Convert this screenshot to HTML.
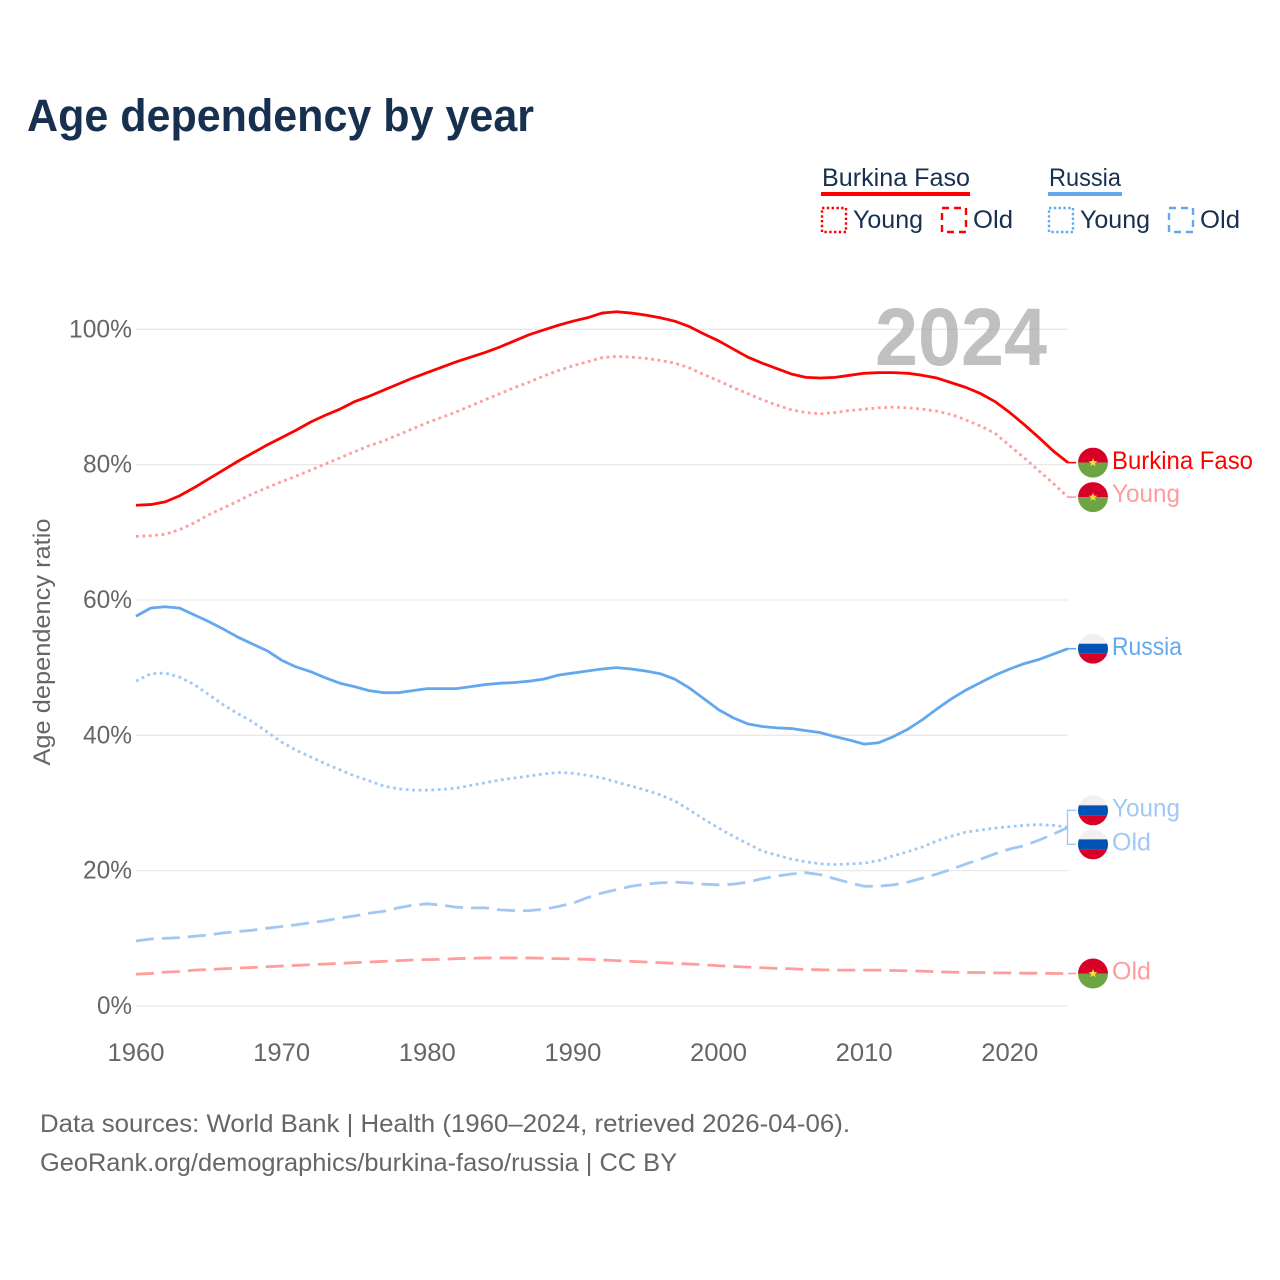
<!DOCTYPE html>
<html lang="en">
<head>
<meta charset="utf-8">
<title>Age dependency by year</title>
<style>
html,body{margin:0;padding:0;background:#fff;}
svg{display:block;font-family:"Liberation Sans",sans-serif;}
</style>
</head>
<body>
<svg id="chart" xmlns="http://www.w3.org/2000/svg" width="1280" height="1280" viewBox="0 0 1280 1280">
  <rect x="0" y="0" width="1280" height="1280" fill="#fff"/>
  <text x="27" y="131" font-size="45" font-weight="700" fill="#17304f" textLength="507" lengthAdjust="spacingAndGlyphs">Age dependency by year</text>

  <g>
    <text x="822" y="186" font-size="25" fill="#17304f" textLength="148" lengthAdjust="spacingAndGlyphs">Burkina Faso</text>
    <rect x="821" y="192" width="149" height="4" fill="#ff0000"/>
    <rect x="822" y="208" width="24" height="24" fill="none" stroke="#ff0000" stroke-width="2.4" stroke-dasharray="2.4 2.4"/>
    <text x="853" y="228" font-size="25" fill="#17304f" textLength="70" lengthAdjust="spacingAndGlyphs">Young</text>
    <rect x="942" y="208" width="24" height="24" fill="none" stroke="#ff0000" stroke-width="2.4" stroke-dasharray="7 5"/>
    <text x="973" y="228" font-size="25" fill="#17304f" textLength="40" lengthAdjust="spacingAndGlyphs">Old</text>

    <text x="1049" y="186" font-size="25" fill="#17304f" textLength="72" lengthAdjust="spacingAndGlyphs">Russia</text>
    <rect x="1048" y="192" width="74" height="4" fill="#63a8ee"/>
    <rect x="1049" y="208" width="24" height="24" fill="none" stroke="#63a8ee" stroke-width="2.4" stroke-dasharray="2.4 2.4"/>
    <text x="1080" y="228" font-size="25" fill="#17304f" textLength="70" lengthAdjust="spacingAndGlyphs">Young</text>
    <rect x="1169" y="208" width="24" height="24" fill="none" stroke="#63a8ee" stroke-width="2.4" stroke-dasharray="7 5"/>
    <text x="1200" y="228" font-size="25" fill="#17304f" textLength="40" lengthAdjust="spacingAndGlyphs">Old</text>
  </g>

  <g id="grid"></g>
  <g id="xticks"></g>
  <g id="yticks"></g>
  <text transform="translate(50,642) rotate(-90)" text-anchor="middle" font-size="24" fill="#666" textLength="247" lengthAdjust="spacingAndGlyphs">Age dependency ratio</text>

  <g id="series"></g>
  <text x="875" y="365" font-size="82" font-weight="700" fill="#a8a8a8" fill-opacity="0.72" textLength="172" lengthAdjust="spacingAndGlyphs">2024</text>
  <g id="connectors"></g>
  <g id="flags"></g>

  <text x="40" y="1132" font-size="25" fill="#666" textLength="810" lengthAdjust="spacingAndGlyphs">Data sources: World Bank | Health (1960–2024, retrieved 2026-04-06).</text>
  <text x="40" y="1171" font-size="25" fill="#666" textLength="637" lengthAdjust="spacingAndGlyphs">GeoRank.org/demographics/burkina-faso/russia | CC BY</text>
</svg>
<script>
const startYear = 1960;
const xTickYears = [1960,1970,1980,1990,2000,2010,2020];
const yTickValues = [0,20,40,60,80,100];
const yTickLabels = ["0%","20%","40%","60%","80%","100%"];

const burkinaTotal = [74.0,74.1,74.5,75.4,76.6,77.9,79.2,80.5,81.7,82.9,84.0,85.1,86.3,87.3,88.2,89.3,90.1,91.0,91.9,92.8,93.6,94.4,95.2,95.9,96.6,97.4,98.3,99.2,99.9,100.6,101.2,101.7,102.4,102.6,102.4,102.1,101.7,101.2,100.4,99.3,98.3,97.1,95.9,95.0,94.2,93.4,92.9,92.8,92.9,93.2,93.5,93.6,93.6,93.5,93.2,92.8,92.1,91.4,90.5,89.3,87.7,85.9,84.0,82.0,80.3];
const burkinaYoung = [69.4,69.5,69.7,70.4,71.4,72.6,73.6,74.6,75.7,76.6,77.5,78.3,79.2,80.1,81.0,81.9,82.8,83.5,84.4,85.3,86.2,87.0,87.8,88.7,89.6,90.5,91.4,92.2,93.1,93.9,94.6,95.2,95.8,96.0,95.9,95.7,95.4,95.0,94.3,93.3,92.4,91.4,90.5,89.6,88.8,88.1,87.7,87.5,87.7,88.0,88.2,88.4,88.5,88.4,88.2,87.9,87.4,86.6,85.7,84.6,82.8,81.0,79.1,77.2,75.2];
const burkinaOld = [4.7,4.8,5.0,5.1,5.3,5.4,5.5,5.6,5.7,5.8,5.9,6.0,6.1,6.2,6.3,6.4,6.5,6.6,6.7,6.8,6.85,6.9,7.0,7.05,7.1,7.1,7.1,7.1,7.05,7.0,6.95,6.9,6.8,6.7,6.6,6.5,6.4,6.3,6.2,6.1,5.95,5.85,5.75,5.65,5.55,5.5,5.4,5.35,5.3,5.3,5.3,5.3,5.25,5.2,5.15,5.05,5.0,4.95,4.95,4.9,4.9,4.85,4.85,4.8,4.8];
const russiaTotal = [57.6,58.8,59.0,58.8,57.8,56.8,55.7,54.5,53.5,52.5,51.1,50.1,49.4,48.5,47.7,47.2,46.6,46.3,46.3,46.6,46.9,46.9,46.9,47.2,47.5,47.7,47.8,48.0,48.3,48.9,49.2,49.5,49.8,50.0,49.8,49.5,49.1,48.3,47.0,45.4,43.8,42.6,41.7,41.3,41.1,41.0,40.7,40.4,39.8,39.3,38.7,38.9,39.8,40.9,42.3,43.9,45.4,46.7,47.8,48.9,49.8,50.6,51.2,52.0,52.8];
const russiaYoung = [48.0,49.1,49.2,48.6,47.5,46.0,44.5,43.2,42.0,40.5,39.0,37.8,36.8,35.8,34.9,34.0,33.3,32.5,32.1,31.9,31.9,32.0,32.2,32.6,33.0,33.4,33.7,34.0,34.3,34.5,34.4,34.1,33.7,33.1,32.5,31.9,31.2,30.3,29.0,27.6,26.3,25.1,24.0,22.9,22.3,21.7,21.3,21.0,20.9,21.0,21.1,21.5,22.2,22.8,23.5,24.4,25.1,25.7,26.0,26.3,26.5,26.7,26.8,26.7,26.4];
const russiaOld = [9.6,9.9,10.0,10.1,10.3,10.5,10.8,11.0,11.2,11.5,11.75,12.0,12.3,12.6,13.0,13.3,13.7,14.0,14.5,14.9,15.1,14.9,14.6,14.5,14.5,14.2,14.1,14.1,14.3,14.7,15.2,16.0,16.7,17.2,17.7,18.0,18.2,18.3,18.2,18.0,17.9,18.0,18.3,18.8,19.2,19.5,19.7,19.4,18.8,18.2,17.7,17.7,17.9,18.3,18.9,19.5,20.2,21.0,21.7,22.5,23.2,23.7,24.5,25.4,26.4];

const SVGNS = "http://www.w3.org/2000/svg";
const xScale = function (year) { return 136 + (year - 1960) * (1068 - 136) / 64; };
const yScale = function (v) { return 1006 - v * (1006 - 329.3) / 100; };
function mk(tag, attrs, parent) {
  const el = document.createElementNS(SVGNS, tag);
  for (const k in attrs) el.setAttribute(k, attrs[k]);
  parent.appendChild(el);
  return el;
}

const grid = document.getElementById("grid");
const yticks = document.getElementById("yticks");
yTickValues.forEach(function (v, i) {
  const line = mk("line", {x1: 136, x2: 1068, y1: yScale(v), y2: yScale(v), stroke: "#e9e9e9", "stroke-width": 1.3}, grid);
  
  
  const label = yTickLabels[i];
  const t = mk("text", {x: 132, y: yScale(v) + 8, "text-anchor": "end", "font-size": 25, fill: "#666", textLength: 14 * label.length + 7, lengthAdjust: "spacingAndGlyphs"}, yticks);
  
  
  t.textContent = label;
});

const xticks = document.getElementById("xticks");
xTickYears.forEach(function (year) {
  const t = mk("text", {x: xScale(year), y: 1061, "text-anchor": "middle", "font-size": 25, fill: "#666", textLength: 57, lengthAdjust: "spacingAndGlyphs"}, xticks);
  
  
  t.textContent = String(year);
});

const seriesGroup = document.getElementById("series");
function drawSeries(values, color, dash, name) {
  const d = values.map(function (v, i) {
    return (i ? "L" : "M") + xScale(startYear + i).toFixed(2) + " " + yScale(v).toFixed(2);
  }).join("");
  const p = mk("path", {d: d, fill: "none", stroke: color, "stroke-width": 2.8, "stroke-linejoin": "round"}, seriesGroup);
  if (dash) p.setAttribute("stroke-dasharray", dash);
  
  
}
const RED = "#ff0000", PINK = "#ff9c9c", BLUE = "#63a8ee", LIGHT = "#a1c8f3";
const DOT = "2.8 3.6", DASH = "18 8";
drawSeries(burkinaOld, PINK, DASH, "line-burkina-old");
drawSeries(russiaOld, LIGHT, DASH, "line-russia-old");
drawSeries(russiaYoung, LIGHT, DOT, "line-russia-young");
drawSeries(burkinaYoung, PINK, DOT, "line-burkina-young");
drawSeries(russiaTotal, BLUE, null, "line-russia-total");
drawSeries(burkinaTotal, RED, null, "line-burkina-total");

const conn = document.getElementById("connectors");
const flags = document.getElementById("flags");
const defs = mk("defs", {}, flags);
let clipId = 0;
function last(a) { return a[a.length - 1]; }

function drawFlag(cy, kind) {
  clipId++;
  const id = "clip" + clipId;
  const cp = mk("clipPath", {id: id}, defs);
  mk("circle", {cx: 1093, cy: cy, r: 15}, cp);
  const g = mk("g", {"clip-path": "url(#" + id + ")"}, flags);
  
  
  if (kind === "bf") {
    mk("rect", {x: 1078, y: cy - 15, width: 30, height: 15, fill: "#d80027"}, g);
    mk("rect", {x: 1078, y: cy, width: 30, height: 15, fill: "#6da544"}, g);
    const pts = [];
    for (let i = 0; i < 10; i++) {
      const r = i % 2 ? 1.9 : 4.6, a = -Math.PI / 2 + i * Math.PI / 5;
      pts.push((1093 + r * Math.cos(a)).toFixed(2) + "," + (cy + r * Math.sin(a)).toFixed(2));
    }
    mk("polygon", {points: pts.join(" "), fill: "#ffda44"}, g);
  } else {
    mk("rect", {x: 1078, y: cy - 15, width: 30, height: 10, fill: "#f0f0f0"}, g);
    mk("rect", {x: 1078, y: cy - 5, width: 30, height: 10, fill: "#0052b4"}, g);
    mk("rect", {x: 1078, y: cy + 5, width: 30, height: 10, fill: "#d80027"}, g);
  }
}
function drawLabel(cy, text, color, width, name) {
  const t = mk("text", {x: 1112, y: cy + 7, "font-size": 25, fill: color, textLength: width, lengthAdjust: "spacingAndGlyphs"}, flags);
  
  
  t.textContent = text;
}
function straightConnector(y, color, w) {
  const l = mk("line", {x1: 1068, x2: 1076, y1: y, y2: y, stroke: color, "stroke-width": w}, conn);
  
  
}

const yBT = yScale(last(burkinaTotal));
const yBY = yScale(last(burkinaYoung));
const yBO = yScale(last(burkinaOld));
const yRT = yScale(last(russiaTotal));
const yRmid = (yScale(last(russiaYoung)) + yScale(last(russiaOld))) / 2;
const yRY = yRmid - 17;
const yRO = yRmid + 17;

straightConnector(yBT, RED, 1.6);
straightConnector(yBY, PINK, 1.6);
straightConnector(yBO, PINK, 1.6);
straightConnector(yRT, BLUE, 1.6);
const bracket = mk("path", {d: "M1076 " + yRY + "H1067.500V" + yRO + "H1076M1067.500 " + yRmid + "H1068", fill: "none", stroke: LIGHT, "stroke-width": 1.4}, conn);



drawFlag(yBT, "bf"); drawLabel(yBT - 0.5, "Burkina Faso", RED, 141, "label-burkina-total");
drawFlag(yBY, "bf"); drawLabel(yBY - 2, "Young", PINK, 68, "label-burkina-young");
drawFlag(yRT, "ru"); drawLabel(yRT - 0.5, "Russia", BLUE, 70, "label-russia-total");
drawFlag(yRY, "ru"); drawLabel(yRY - 1, "Young", LIGHT, 68, "label-russia-young");
drawFlag(yRO, "ru"); drawLabel(yRO - 1, "Old", LIGHT, 39, "label-russia-old");
drawFlag(yBO, "bf"); drawLabel(yBO - 1, "Old", PINK, 39, "label-burkina-old");
</script>
</body>
</html>
